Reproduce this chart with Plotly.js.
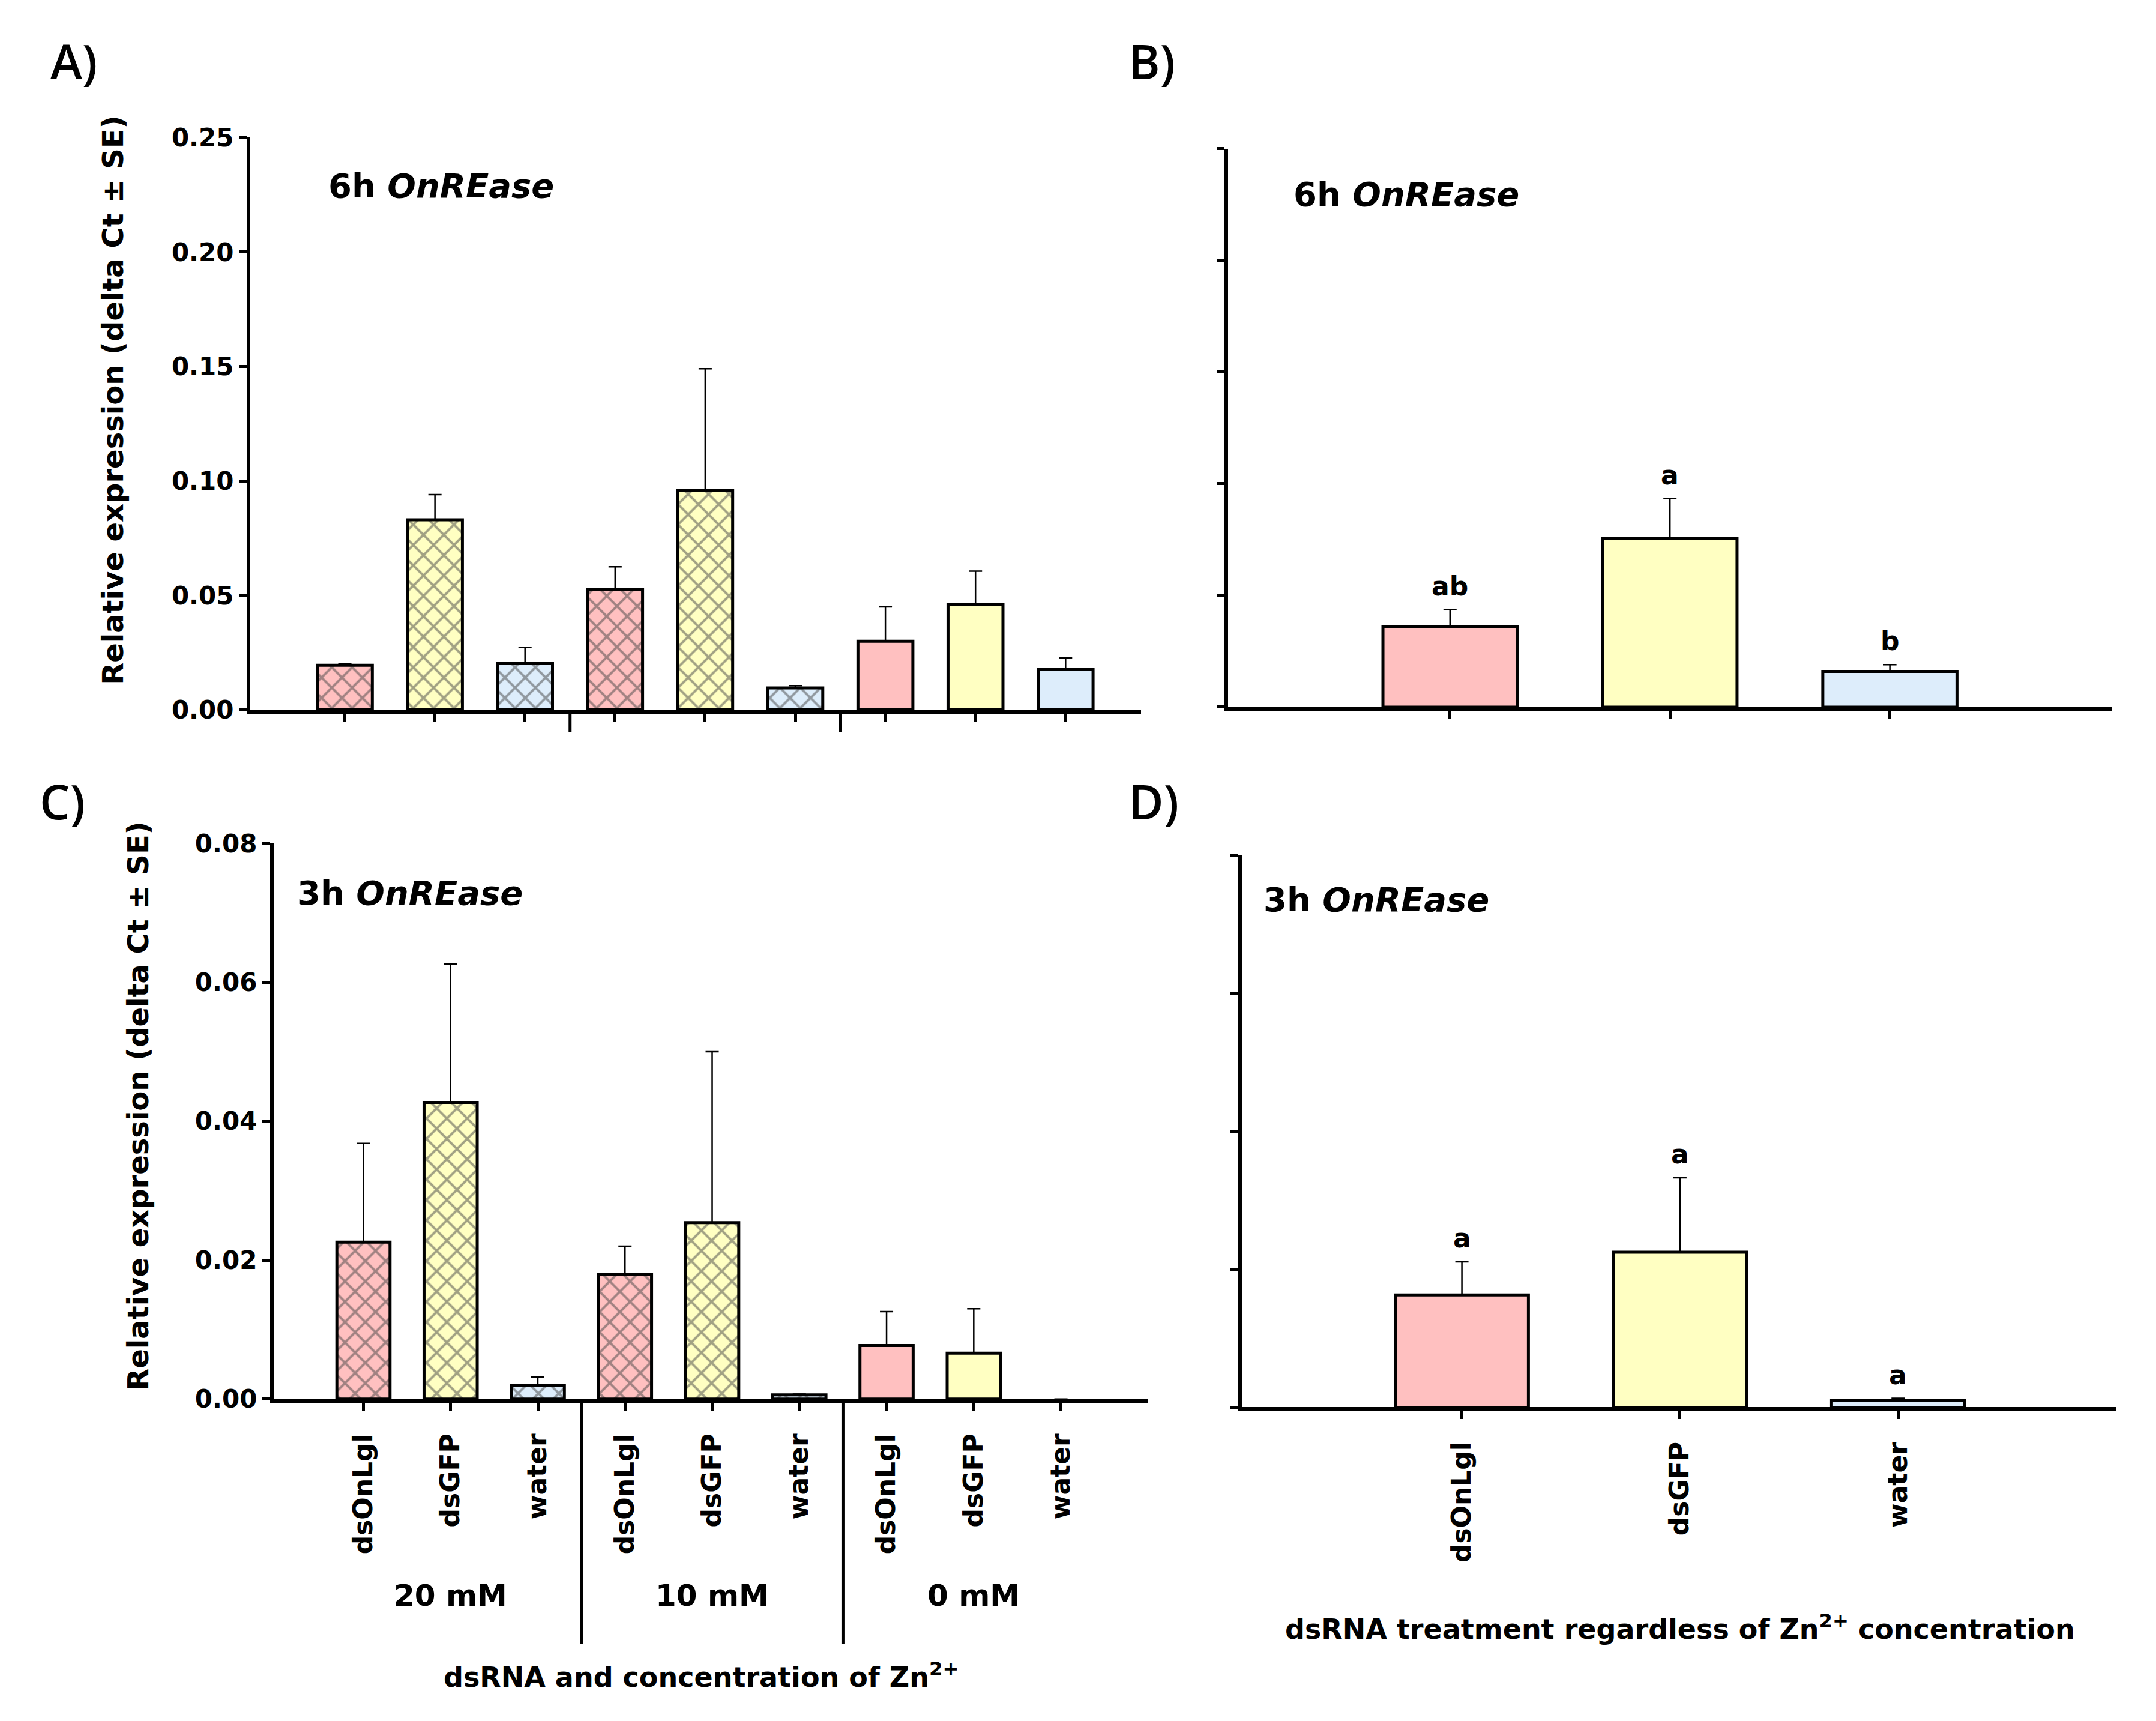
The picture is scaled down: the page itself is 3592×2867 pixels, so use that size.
<!DOCTYPE html>
<html lang="en">
<head>
    <meta charset="UTF-8">
    <title>OnREase expression</title>
    <script src="https://cdn.plot.ly/plotly-3.0.1.min.js"></script>
    <style>
        body { margin: 0; background: #fff; }
    </style>
</head>
<body>

<div id="chart"></div>

<script>
    // ---- data ----
    let concGroups = ['20 mM', '10 mM', '0 mM'];
    let treatments = ['dsOnLgl', 'dsGFP', 'water'];

    // A) 6h, per treatment inside each Zn group (20, 10, 0 mM)
    let mean6hByConc = [0.0195, 0.083, 0.0205, 0.0525, 0.096, 0.0096, 0.030, 0.046, 0.0176];
    let se6hByConc = [0.0005, 0.011, 0.0067, 0.010, 0.053, 0.001, 0.015, 0.0146, 0.005];

    // B) 6h, pooled over Zn
    let mean6hPooled = [0.036, 0.0755, 0.016];
    let se6hPooled = [0.0076, 0.0178, 0.003];
    let letters6h = ['ab', 'a', 'b'];

    // C) 3h, per treatment inside each Zn group
    let mean3hByConc = [0.0226, 0.0427, 0.002, 0.018, 0.0254, 0.0006, 0.0077, 0.0066, 0];
    let se3hByConc = [0.0142, 0.0199, 0.0012, 0.004, 0.0246, 0.0001, 0.0049, 0.0064, 0];

    // D) 3h, pooled over Zn
    let mean3hPooled = [0.0163, 0.0225, 0.001];
    let se3hPooled = [0.0048, 0.0108, 0.0003];
    let letters3h = ['a', 'a', 'a'];

    // ---- styling ----
    let FONT = 'DejaVu Sans, Verdana, sans-serif';
    let treatColors = {dsOnLgl: '#FFC0C0', dsGFP: '#FFFFC2', water: '#DDEDFB'};
    let hatched = {'20 mM': true, '10 mM': true, '0 mM': false};

    // page layout helpers, in the 1568 x 1251 frame of the reference
    function px(x) { return x / 1568; }
    function py(y) { return 1 - y / 1251; }

    // expand groups x treatments into flat lists
    let flatTreat = [];
    let flatGroup = [];
    for (let g of concGroups) {
        for (let t of treatments) {
            flatTreat.push(t);
            flatGroup.push(g);
        }
    }
    let flatIdx = flatTreat.map((t, i) => i);
    let pooledIdx = treatments.map((t, i) => i);

    function barTrace(xa, ya, xs, ys, errs, treat, groups) {
        return {
            type: 'bar',
            x: xs,
            y: ys,
            xaxis: xa,
            yaxis: ya,
            width: 0.61,
            marker: {
                color: treat.map(t => treatColors[t]),
                line: {color: '#000', width: ys.map(v => v > 0 ? 5 : 0)},
                pattern: {
                    shape: groups.map(g => hatched[g] ? 'x' : ''),
                    fillmode: 'overlay',
                    fgcolor: '#000',
                    size: 24,
                    solidity: 0.3
                }
            },
            error_y: {
                type: 'data',
                symmetric: false,
                array: errs,
                arrayminus: errs.map(() => 0),
                color: '#000',
                thickness: 2.5,
                width: 11
            },
            hoverinfo: 'skip',
            showlegend: false
        };
    }

    let data = [
        barTrace('x', 'y', flatIdx, mean6hByConc, se6hByConc, flatTreat, flatGroup),
        barTrace('x2', 'y2', pooledIdx, mean6hPooled, se6hPooled, treatments, treatments.map(() => '0 mM')),
        barTrace('x3', 'y3', flatIdx, mean3hByConc, se3hByConc, flatTreat, flatGroup),
        barTrace('x4', 'y4', pooledIdx, mean3hPooled, se3hPooled, treatments, treatments.map(() => '0 mM'))
    ];

    let tickFont = {family: FONT, size: 44, color: '#000', weight: 'bold'};

    function xAxis(domain, range, anchor, labels, vals) {
        let ax = {
            domain: domain,
            range: range,
            anchor: anchor,
            showline: true,
            linecolor: '#000',
            linewidth: 6,
            ticks: 'outside',
            ticklen: 14,
            tickwidth: 5,
            tickcolor: '#000',
            tickvals: vals,
            showticklabels: !!labels,
            showgrid: false,
            zeroline: false,
            fixedrange: true
        };
        if (labels) {
            ax.ticktext = labels;
            ax.tickangle = -90;
            ax.ticklabelstandoff = 20;
            ax.tickfont = tickFont;
        }
        return ax;
    }

    function yAxis(domain, range, dtick, anchor, labels) {
        return {
            domain: domain,
            range: range,
            anchor: anchor,
            dtick: dtick,
            tick0: 0,
            tickformat: '.2f',
            showline: true,
            linecolor: '#000',
            linewidth: 6,
            ticks: 'outside',
            ticklen: 13,
            tickwidth: 5,
            tickcolor: '#000',
            showticklabels: labels,
            tickfont: {family: FONT, size: 42, color: '#000', weight: 'bold'},
            showgrid: false,
            zeroline: false,
            fixedrange: true
        };
    }

    let nFlat = flatIdx.length;

    let layout = {
        width: 3592,
        height: 2867,
        margin: {l: 0, r: 0, t: 0, b: 0},
        paper_bgcolor: '#fff',
        plot_bgcolor: 'rgba(0,0,0,0)',
        bargap: 0,
        xaxis: xAxis([px(182), px(830)], [-1.05, nFlat - 0.16], 'y', null, flatIdx),
        yaxis: yAxis([py(516), py(100)], [0, 0.25], 0.05, 'x', true),
        xaxis2: xAxis([px(893), px(1536)], [-1.01, 3.01], 'y2', null, pooledIdx),
        yaxis2: yAxis([py(514), py(108)], [0, 0.25], 0.05, 'x2', false),
        xaxis3: xAxis([px(199), px(835)], [-1.03, nFlat], 'y3', flatTreat, flatIdx),
        yaxis3: yAxis([py(1017), py(613)], [0, 0.08], 0.02, 'x3', true),
        xaxis4: xAxis([px(903), px(1539)], [-1.01, 3.0], 'y4', treatments, pooledIdx),
        yaxis4: yAxis([py(1023), py(622)], [0, 0.08], 0.02, 'x4', false),
        shapes: [],
        annotations: []
    };

    let ann = layout.annotations;
    let shp = layout.shapes;

    function text(x, y, str, size, opts) {
        ann.push(Object.assign({
            xref: 'paper', yref: 'paper',
            x: x, y: y,
            text: str,
            showarrow: false,
            xanchor: 'left', yanchor: 'middle',
            font: {family: FONT, size: size, color: '#000'}
        }, opts || {}));
    }

    // panel letters
    let panelFont = 'Open Sans, Noto Sans, sans-serif';
    [['A)', 36, 44], ['B)', 820, 44], ['C)', 28, 582], ['D)', 820, 582]].forEach(p => {
        text(px(p[1]), py(p[2]), p[0], 80, {font: {family: panelFont, size: 80, color: '#000', weight: 600}});
    });

    // titles inside panels
    text(px(238), py(135), '<b>6h <i>OnREase</i></b>', 56);
    text(px(940), py(141), '<b>6h <i>OnREase</i></b>', 56);
    text(px(215), py(649), '<b>3h <i>OnREase</i></b>', 56);
    text(px(918), py(654), '<b>3h <i>OnREase</i></b>', 56);

    // y axis titles
    let yTitle = '<b>Relative expression (delta Ct \u00b1 SE)</b>';
    text(px(82), py(291), yTitle, 48, {xanchor: 'center', textangle: -90});
    text(px(100), py(804), yTitle, 48, {xanchor: 'center', textangle: -90});

    // x axis titles
    text(px(510), py(1218), '<b>dsRNA and concentration of Zn<sup>2+</sup></b>', 46, {xanchor: 'center'});
    text(px(1222), py(1183), '<b>dsRNA treatment regardless of Zn<sup>2+</sup> concentration</b>', 46, {xanchor: 'center'});

    // group separators and group labels
    let per = treatments.length;
    concGroups.forEach((g, gi) => {
        let centre = gi * per + (per - 1) / 2;
        ann.push({
            xref: 'x3', yref: 'paper', x: centre, y: py(1160),
            text: '<b>' + g + '</b>', showarrow: false,
            xanchor: 'center', yanchor: 'middle',
            font: {family: FONT, size: 50, color: '#000'}
        });
        if (gi > 0) {
            let sep = gi * per - 0.5;
            shp.push({type: 'line', xref: 'x3', yref: 'paper', x0: sep, x1: sep,
                y0: py(1017), y1: py(1195), line: {color: '#000', width: 5}});
            shp.push({type: 'line', xref: 'x', yref: 'paper', x0: sep, x1: sep,
                y0: py(516), y1: py(532), line: {color: '#000', width: 5}});
        }
    });

    // significance letters
    function letters(xa, ya, means, ses, labels) {
        labels.forEach((l, i) => {
            ann.push({
                xref: xa, yref: ya, x: i, y: means[i] + ses[i],
                text: '<b>' + l + '</b>', showarrow: false,
                xanchor: 'center', yanchor: 'bottom', yshift: 12,
                font: {family: FONT, size: 44, color: '#000'}
            });
        });
    }
    letters('x2', 'y2', mean6hPooled, se6hPooled, letters6h);
    letters('x4', 'y4', mean3hPooled, se3hPooled, letters3h);

    Plotly.newPlot('chart', data, layout, {displayModeBar: false, staticPlot: true});
</script>

</body>
</html>
